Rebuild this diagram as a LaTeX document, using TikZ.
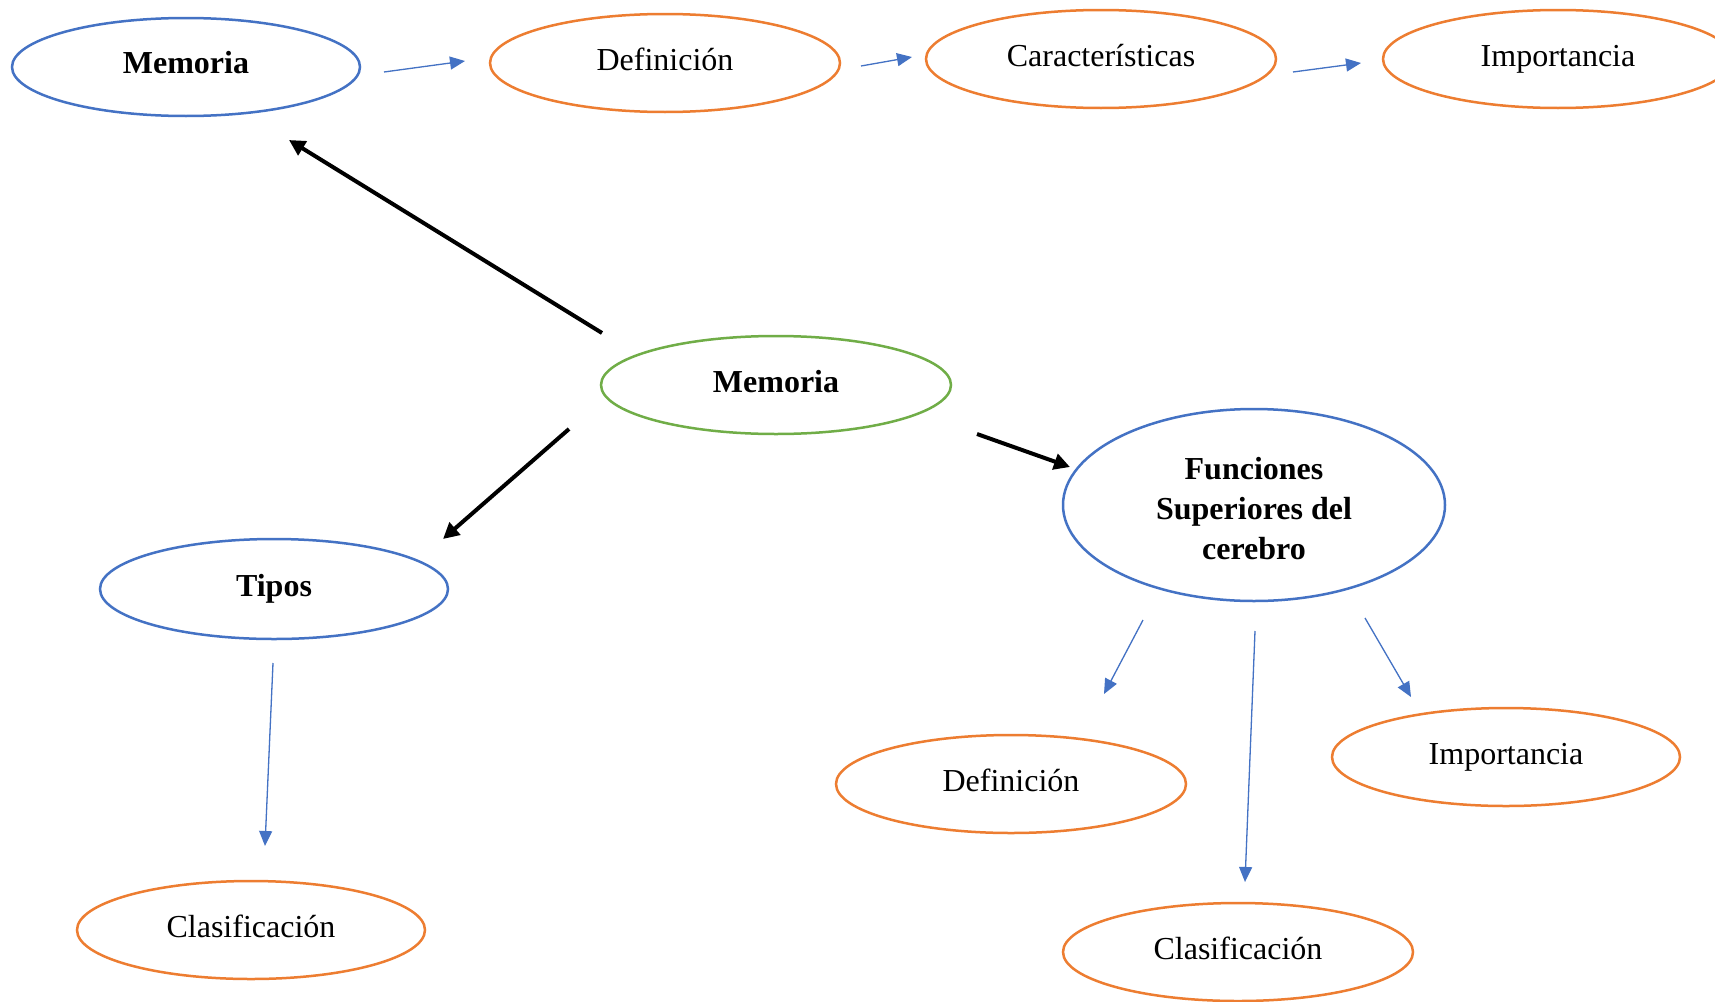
\documentclass[tikz,border=0pt]{standalone}
\usepackage{fontspec}
\setmainfont{Liberation Serif}
\usetikzlibrary{shapes.geometric,arrows.meta}
\definecolor{oblue}{HTML}{4472C4}
\definecolor{oorange}{HTML}{ED7D31}
\definecolor{ogreen}{HTML}{70AD47}
\begin{document}
\begin{tikzpicture}[x=1pt,y=-1pt,
  ell/.style={ellipse,draw,line width=2.5pt,inner sep=0pt,minimum width=350pt,minimum height=98pt,font=\fontsize{32}{38}\selectfont,align=center,text depth=7pt},
  blueell/.style={ell,draw=oblue},
  orell/.style={ell,draw=oorange},
  grell/.style={ell,draw=ogreen},
  lbl/.style={font=\fontsize{32}{40}\selectfont\bfseries,align=center,inner sep=0pt},
  thinarr/.style={draw=oblue,line width=1.3pt,-{Triangle[length=15pt,width=13pt]},fill=oblue},
  bigarr/.style={draw=black,line width=4pt,-{Triangle[length=16pt,width=16pt]}}]
\useasboundingbox[fill=white] (0,0) rectangle (1715,1001);
% nodes
\node[blueell,minimum width=348pt] (mh) at (186,67) {};
\node[lbl] (mhtext) at (186,63) {Memoria};
\node[orell] (def1) at (665,63) {Definición};
\node[orell] (car) at (1101,59) {Características};
\node[orell] (imp1) at (1558,59) {Importancia};
\node[grell,font=\fontsize{32}{38}\selectfont\bfseries] (mem) at (776,385) {Memoria};
\node[blueell,minimum width=382pt,minimum height=192pt] (fun) at (1254,505) {};
\node[lbl] (funtext) at (1254,509) {Funciones\\Superiores del\\cerebro};
\node[blueell,minimum width=348pt,minimum height=100pt,font=\fontsize{32}{38}\selectfont\bfseries] (tip) at (274,589) {Tipos};
\node[orell,minimum width=348pt] (cla1) at (251,930) {Clasificación};
\node[orell] (def2) at (1011,784) {Definición};
\node[orell,minimum width=348pt] (imp2) at (1506,757) {Importancia};
\node[orell] (cla2) at (1238,952) {Clasificación};
% connector end points
\coordinate (a1s) at (384,72);   \coordinate (a1e) at (465,61);
\coordinate (a2s) at (861,66);   \coordinate (a2e) at (912,57);
\coordinate (a3s) at (1293,72);  \coordinate (a3e) at (1361,63);
\coordinate (b1s) at (602,333);  \coordinate (b1e) at (289,140);
\coordinate (b2s) at (569,429);  \coordinate (b2e) at (443,539);
\coordinate (b3s) at (977,434);  \coordinate (b3e) at (1070,467);
\coordinate (c1s) at (273,663);  \coordinate (c1e) at (265,846);
\coordinate (c2s) at (1143,620); \coordinate (c2e) at (1104,694);
\coordinate (c3s) at (1255,631); \coordinate (c3e) at (1245,882);
\coordinate (c4s) at (1365,618); \coordinate (c4e) at (1411,697);
% connectors
\draw[thinarr] (a1s) -- (a1e);
\draw[thinarr] (a2s) -- (a2e);
\draw[thinarr] (a3s) -- (a3e);
\draw[bigarr] (b1s) -- (b1e);
\draw[bigarr] (b2s) -- (b2e);
\draw[bigarr] (b3s) -- (b3e);
\draw[thinarr] (c1s) -- (c1e);
\draw[thinarr] (c2s) -- (c2e);
\draw[thinarr] (c3s) -- (c3e);
\draw[thinarr] (c4s) -- (c4e);
\end{tikzpicture}
\end{document}
